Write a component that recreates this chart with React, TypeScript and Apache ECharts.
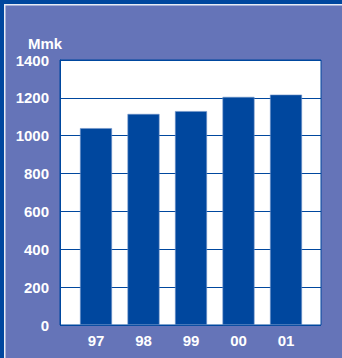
import React, { useEffect, useRef } from "react";
import * as echarts from "echarts";

const years = ["97", "98", "99", "00", "01"];
const values = [1040, 1115, 1130, 1205, 1217];
const yTicks = [0, 200, 400, 600, 800, 1000, 1200, 1400];
const unitLabel = "Mmk";

const DARK = "#00479e";
const PURPLE = "#6574b8";
const FONT = "'Liberation Sans', Arial, Helvetica, sans-serif";

export default function App() {
  const ref = useRef<HTMLDivElement>(null);
  useEffect(() => {
    if (!ref.current) return;
    const chart = echarts.init(ref.current, undefined, { renderer: "svg" });
    chart.setOption({
      animation: false,
      backgroundColor: PURPLE,
      graphic: [
        { type: "rect", shape: { x: 0, y: 0, width: 342, height: 4 }, style: { fill: DARK } },
        { type: "rect", shape: { x: 0, y: 0, width: 4, height: 358 }, style: { fill: DARK } },
        { type: "rect", shape: { x: 4, y: 4, width: 338, height: 1.5 }, style: { fill: "#e8ecf6" } },
        { type: "rect", shape: { x: 4, y: 4, width: 1.5, height: 354 }, style: { fill: "#e8ecf6" } },
        {
          type: "text",
          left: 28,
          top: 36,
          style: { text: unitLabel, fill: "#fff", font: `bold 15px ${FONT}` },
        },
      ],
      grid: [
        {
          left: 60,
          top: 60,
          width: 261,
          height: 265,
          show: true,
          backgroundColor: "#ffffff",
          borderColor: DARK,
          borderWidth: 1,
        },
        { left: 72.25, top: 60, width: 237.5, height: 265 },
      ],
      xAxis: [
        { type: "value", gridIndex: 0, show: false, min: 0, max: 1 },
        {
          type: "category",
          gridIndex: 1,
          data: years,
          axisLine: { show: false },
          axisTick: { show: false },
          axisLabel: {
            color: "#fff",
            fontWeight: "bold",
            fontSize: 15,
            fontFamily: FONT,
            margin: 8,
          },
        },
      ],
      yAxis: [
        {
          type: "value",
          gridIndex: 0,
          min: yTicks[0],
          max: yTicks[yTicks.length - 1],
          interval: 200,
          axisLine: { show: true, lineStyle: { color: DARK, width: 1 } },
          axisTick: { show: false },
          axisLabel: {
            color: "#fff",
            fontWeight: "bold",
            fontSize: 15,
            fontFamily: FONT,
            margin: 11,
            formatter: (v: number) => String(v),
          },
          splitLine: { show: true, lineStyle: { color: DARK, width: 1.2 } },
        },
        {
          type: "value",
          gridIndex: 1,
          min: yTicks[0],
          max: yTicks[yTicks.length - 1],
          show: false,
        },
      ],
      series: [
        {
          type: "bar",
          xAxisIndex: 1,
          yAxisIndex: 1,
          data: values,
          barWidth: 32,
          itemStyle: { color: DARK, borderColor: "#6f93c9", borderWidth: 0.6 },
        },
      ],
    });
    return () => chart.dispose();
  }, []);
  return (
    <div
      ref={ref}
      style={{ position: "fixed", left: 0, top: 0, width: 342, height: 358 }}
    />
  );
}
